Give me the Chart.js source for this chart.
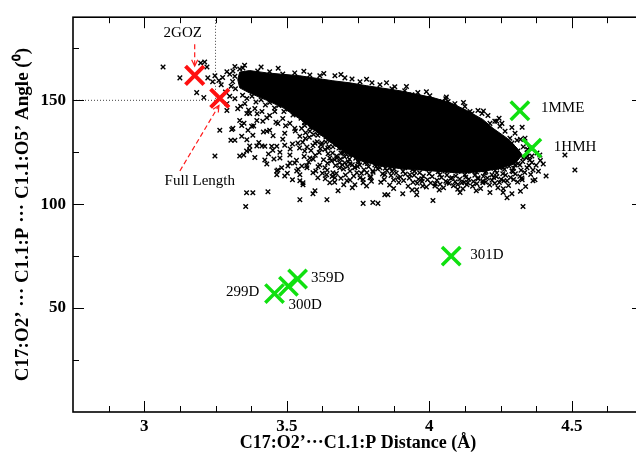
<!DOCTYPE html>
<html>
<head>
<title>C17:O2' - C1.1:P distance vs angle</title>
<script src="https://cdn.jsdelivr.net/npm/chart.js"></script>
<style>
  html, body { margin: 0; padding: 0; overflow: hidden; background: #fff; }
</style>
</head>
<body>
<canvas id="plot" width="660" height="457"></canvas>
<script>
// axis ticks
const xTicks = [3, 3.5, 4, 4.5];
const xMinor = [2.875, 3.125, 3.25, 3.375, 3.625, 3.75, 3.875, 4.125, 4.25, 4.375, 4.625];
const yTicks = [50, 100, 150];
const yMinor = [25, 75, 125, 175];

// highlighted structures
const redDist = [3.177, 3.265];
const redAngle = [162, 151];
const greenDist = [4.318, 4.36, 4.077, 3.538, 3.506, 3.457];
const greenAngle = [145, 127, 75, 64, 60.5, 57];

// text notes (anchor in data units)
const noteText = ['2GOZ', 'Full Length', '1MME', '1HMH', '301D', '359D', '299D', '300D'];
const noteDist = [3.135, 3.195, 4.392, 4.437, 4.144, 3.585, 3.404, 3.506];
const noteAngle = [182.5, 111, 146.3, 127.5, 75.3, 64.5, 57.8, 51.6];

// arrows [fromDist, fromAngle, toDist, toAngle]
const arrowGoz = [3.177, 177, 3.177, 166.5];
const arrowFull = [3.125, 116, 3.262, 147.5];

// dotted guide at 3.25 / 150
const guideDist = [2.75, 3.25, 3.25];
const guideAngle = [150, 150, 190];

// saturated centre of the MD cloud (outline)
const coreDist = [3.335, 3.370, 3.430, 3.546, 3.662, 3.722, 3.781, 3.897, 4.013, 4.073, 4.132, 4.188, 4.224, 4.273, 4.308, 4.326,
  4.301, 4.248, 4.178, 4.108, 4.013, 3.897, 3.827, 3.757, 3.704, 3.651, 3.599, 3.546, 3.486, 3.430, 3.370, 3.335, 3.328, 3.335];
const coreAngle = [163.6, 164.3, 163.2, 161.8, 159.4, 158.4, 157.0, 154.6, 151.3, 148.9, 145.1, 140.8, 136.5, 131.8, 127.0, 123.7,
  119.5, 117.2, 115.6, 115.0, 116.0, 117.2, 118.4, 121.0, 125.0, 130.0, 135.5, 141.0, 146.5, 150.0, 153.5, 156.0, 160.0, 163.6];

// individual MD frames around the centre [dist, angle]
const cloudPts = [
  // left of the cloud, near 2GOZ / full length
  [3.066,166.0],[3.125,160.8],[3.184,153.7],[3.209,151.3],[3.22,166.0],[3.198,168.0],[3.223,160.8],[3.24,158.9],[3.212,168.4],[3.248,161.8],
  [3.27,157.5],[3.285,154],[3.3,152],[3.262,159.5],[3.275,161],[3.3,162.5],[3.31,159.0],[3.32,155.6],[3.305,156.8],[3.318,161.6],
  // upper edge
  [3.29,163.7],[3.311,164.1],[3.335,165.1],[3.346,165.6],[3.381,162.7],[3.398,164.1],[3.44,163.7],[3.486,162.7],[3.528,163.2],[3.581,162.2],
  [3.616,161.8],[3.669,161.8],[3.704,160.8],[3.729,160.3],[3.757,158.9],[3.799,158.4],[3.827,157.5],[3.879,156.5],[3.914,154.6],[3.96,153.7],
  [4.002,152.2],[4.044,149.4],[4.058,150.8],[4.09,148.4],[4.125,147.0],[4.143,144.6],[4.171,145.1],[4.206,142.7],[4.23,139.9],[4.255,138.9],
  [4.266,135.1],[4.301,134.1],[4.29,129.4],[4.336,131.8],[4.353,127.0],[4.378,124.6],
  [3.318,166.3],[3.352,166.9],[3.41,166.0],[3.47,165.4],[3.56,164.0],[3.63,162.9],[3.69,162.4],[3.78,160.1],[3.85,158.4],[3.92,156.6],
  [3.99,154.1],[4.06,151.6],[4.12,148.9],[4.19,144.9],[4.245,141.4],[4.29,136.9],[4.32,131.2],[4.345,126.4],
  [3.827,154.6],[3.869,155.6],[3.939,152.7],[3.977,150.8],[4.013,149.4],[4.066,149.4],[4.132,143.7],[4.15,143.7],[4.185,143.7],[4.213,138.9],
  [4.237,139.9],[4.248,137.5],[4.283,131.7],[4.308,130.8],[4.311,125.6],[4.326,137.0],
  // right tip
  [4.329,122.2],[4.36,123.2],[4.343,117.5],[4.318,118.9],[4.294,115.6],[4.283,120.8],[4.259,117.5],[4.273,111.3],[4.353,121.3],[4.364,116.5],
  [4.326,111.8],[4.371,111.8],[4.388,123.7],[4.343,124.6],[4.301,118.9],
  [4.33,127.6],[4.345,123.1],[4.36,120.1],[4.375,118.8],[4.39,121.0],[4.356,114.3],[4.383,115.9],[4.4,119.4],
  // lower left, sparse
  [3.248,123.2],[3.265,135.6],[3.29,148.4],[3.29,145.1],[3.307,136.0],[3.304,130.8],[3.318,130.8],[3.311,136.5],[3.335,123.2],[3.349,123.7],
  [3.36,143.7],[3.335,140.3],[3.342,137.9],[3.342,132.7],[3.359,125.6],[3.364,135.6],[3.37,128.0],[3.377,137.5],[3.381,133.2],[3.395,140.3],
  [3.395,128.0],[3.37,126.1],[3.413,128.0],[3.416,139.9],[3.423,127.9],[3.423,121.3],[3.43,135.1],[3.44,135.6],[3.447,127.9],[3.451,126.0],
  [3.465,127.9],[3.465,116.0],[3.465,114.2],[3.469,116.5],[3.476,122.2],[3.482,117.5],[3.493,128.4],[3.493,113.6],[3.504,118.4],[3.511,123.7],
  [3.511,119.8],[3.528,119.8],[3.535,116.0],[3.546,132.7],[3.546,114.2],[3.546,111.3],[3.553,118.4],[3.557,110.3],[3.557,109.4],[3.571,117.5],
  [3.581,122.2],[3.592,115.1],[3.599,106.5],[3.609,112.7],[3.616,118.9],[3.64,114.2],[3.651,110.3],[3.662,115.1],[3.669,112.7],[3.676,122.2],
  [3.68,106.5],[3.686,117.5],[3.711,111.3],[3.722,116.0],[3.739,109.4],[3.746,115.1],[3.757,112.7],[3.768,110.3],[3.781,115.1],[3.792,112.7],[3.802,116.0],
  [3.353,148.4],[3.388,146.0],[3.413,144.6],[3.44,142.7],[3.458,144.6],[3.486,141.3],[3.511,138.9],[3.528,136.5],[3.563,137.9],[3.581,135.1],
  [3.609,133.2],[3.623,129.4],[3.644,127.0],[3.599,129.4],[3.683,127.0],[3.697,124.6],[3.722,123.7],[3.75,120.8],[3.774,119.9],[3.809,118.9],
  [3.862,117.5],[3.897,118.4],[3.96,118.4],[4.073,117.5],[4.178,118.0],[4.23,118.9],[3.318,150.8],[3.328,146.0],[3.37,143.7],[3.493,134.1],
  [3.539,129.4],[3.469,138.9],[3.563,125.6],[3.651,122.2],[3.704,119.9],[3.634,117.5],[3.739,117.5],
  [3.345,152.4],[3.36,150.9],[3.378,152.0],[3.392,149.2],[3.41,150.3],[3.425,147.8],[3.44,148.9],[3.457,146.3],[3.472,147.5],[3.49,144.6],
  [3.505,145.8],[3.522,142.9],[3.538,143.7],
  [3.338,147.1],[3.366,145.3],[3.396,143.5],[3.43,141.6],[3.462,139.5],[3.496,137.8],[3.53,135.2],
  [3.35,139.0],[3.384,137.7],[3.418,134.8],[3.452,133.0],[3.486,131.3],[3.52,129.0],[3.545,127.1],
  [3.36,131.0],[3.402,129.7],[3.436,124.2],[3.476,125.0],[3.512,126.6],[3.534,121.1],
  [3.388,122.5],[3.43,119.4],[3.455,121.8],[3.502,114.9],[3.52,111.8],[3.54,116.8],
  // below the diagonal edge
  [3.55,141.4],[3.562,139.2],[3.575,140.6],[3.588,137.3],[3.6,135.8],[3.613,137.9],[3.626,134.2],[3.638,132.5],[3.652,130.7],[3.664,131.9],
  [3.677,128.8],[3.69,127.2],[3.702,125.9],[3.715,126.8],[3.728,124.3],[3.742,122.1],
  [3.552,136.5],[3.566,134.4],[3.579,132.2],[3.594,133.5],[3.607,130.1],[3.621,128.6],[3.634,126.3],[3.648,127.7],[3.661,124.6],[3.675,123.2],
  [3.689,121.7],[3.703,122.8],[3.716,120.4],[3.73,119.0],
  [3.556,129.8],[3.571,127.5],[3.585,125.9],[3.6,123.6],[3.614,124.9],[3.629,121.4],[3.643,119.7],[3.657,120.8],[3.671,118.6],[3.685,119.9],
  [3.699,116.9],[3.713,118.2],
  [3.561,123.0],[3.577,120.3],[3.593,121.7],[3.61,118.0],[3.625,114.9],[3.642,116.4],[3.659,113.3],[3.674,114.8],[3.69,112.5],[3.706,114.1],[3.722,111.6],
  [3.565,131.6],[3.592,128.2],[3.618,126.7],[3.645,124.3],[3.668,121.4],[3.695,119.0],[3.72,121.6],[3.748,118.1],
  [3.583,137.0],[3.609,134.7],[3.637,129.9],[3.662,127.6],[3.69,124.6],[3.71,123.9],
  [3.57,118.6],[3.602,116.0],[3.635,112.2],[3.668,110.6],[3.7,109.4],[3.73,107.9],
  // dense lower band
  [3.73,124.0],[3.745,122.6],[3.76,123.4],[3.775,121.5],[3.79,122.7],[3.81,120.6],[3.825,121.9],[3.84,119.8],[3.858,120.9],[3.872,119.2],
  [3.889,120.4],[3.905,118.6],[3.921,119.7],[3.938,118.1],[3.952,119.3],[3.97,117.6],[3.986,118.8],[4.003,117.2],[4.019,118.3],[4.035,116.9],
  [4.05,118.0],[4.068,116.4],[4.083,117.5],[4.1,115.9],[4.117,116.8],[4.133,115.7],[4.149,116.9],[4.166,115.5],[4.182,116.6],[4.199,115.8],
  [4.215,117.3],[4.231,116.2],[4.248,117.6],[4.264,116.8],[4.28,118.3],[4.296,117.4],[4.312,119.6],[4.328,120.5],[4.34,122.4],
  [3.722,119.3],[3.738,117.8],[3.756,118.9],[3.771,116.6],[3.787,118.0],[3.803,115.4],[3.819,116.9],[3.836,114.6],[3.851,116.2],[3.866,113.8],
  [3.884,115.0],[3.899,113.1],[3.916,114.5],[3.93,112.6],[3.947,113.9],[3.962,112.0],[3.979,113.6],[3.994,111.8],[4.01,113.3],[4.027,111.5],
  [4.043,112.9],[4.058,111.1],[4.075,112.4],[4.091,110.8],[4.107,112.1],[4.122,110.6],[4.139,112.0],[4.155,110.9],[4.171,112.3],[4.188,111.2],
  [4.204,112.6],[4.22,111.5],[4.236,113.2],[4.252,112.0],[4.268,114.0],[4.285,112.8],[4.302,114.6],[4.318,113.4],[4.335,115.3],[4.35,118.6],
  [3.735,113.6],[3.768,111.9],[3.795,113.2],[3.83,110.6],[3.861,109.2],[3.893,110.5],[3.926,108.7],[3.958,110.1],[3.99,108.3],[4.021,109.8],
  [4.05,107.9],[4.085,108.9],[4.118,107.4],[4.152,108.6],[4.18,107.6],[4.212,109.3],[4.246,110.4],[4.278,109.0],[4.31,110.7],[4.338,108.5],
  [3.827,117.5],[3.844,114.2],[3.869,115.9],[3.89,112.7],[3.914,117.5],[3.932,114.2],[3.949,115.9],[3.974,112.2],[3.995,117.0],[4.037,114.2],
  [4.055,116.0],[4.08,112.7],[4.101,116.0],[4.125,114.2],[4.15,116.0],[4.171,112.7],[4.196,115.1],[4.22,114.2],[4.237,115.0],
  [3.752,120.2],[3.783,119.6],[3.814,118.3],[3.846,117.3],[3.877,116.9],[3.908,115.8],[3.941,116.6],[3.966,115.1],[4.0,114.8],[4.031,115.6],
  [4.062,114.0],[4.093,113.6],[4.128,113.0],[4.16,113.9],[4.19,113.4],[4.226,112.9],[4.258,114.7],[4.29,116.0],[4.322,116.4],
  [3.762,114.9],[3.797,111.0],[3.842,111.9],[3.875,111.6],[3.91,111.4],[3.943,110.6],[3.975,110.9],[4.005,110.2],[4.038,109.6],[4.07,110.1],
  [4.1,109.5],[4.135,110.3],[4.167,109.8],[4.198,110.6],[4.23,110.1],[4.262,111.3],[4.296,111.9],[4.325,112.6],
  [3.78,108.8],[3.875,107.6],[3.94,106.8],[4.035,106.9],[4.1,107.2],[4.165,106.5],[4.26,107.4],[4.32,106.2],
  // outliers below
  [3.359,105.5],[3.356,98.9],[3.381,105.5],[3.434,106.0],[3.546,102.2],[3.592,105.0],[3.641,102.2],[3.768,100.4],[3.802,100.8],[3.82,100.4],
  [3.844,104.6],[3.855,104.6],[3.907,105.0],[3.956,104.6],[3.956,107.0],[3.977,108.8],[4.013,101.8],[4.02,108.8],[4.062,110.3],[4.108,105.6],
  [4.114,110.3],[4.132,109.4],[4.188,110.3],[4.213,105.6],[4.241,107.9],[4.259,105.6],[4.273,103.1],[4.29,105.0],[4.329,98.9],[4.364,111.3],
  [4.41,113.6],[4.476,123.7],[4.511,116.5]
];

const toXY = (xs, ys) => xs.map((v, i) => ({ x: v, y: ys[i] }));
const serif = 'Liberation Serif, Times New Roman, serif';

const framePlugin = {
  id: 'frame',
  afterDatasetsDraw(chart) {
    const { ctx, chartArea: a, scales: { x, y } } = chart;
    ctx.save();

    // arrows
    ctx.strokeStyle = '#ff1a1a';
    ctx.lineWidth = 1.2;
    [arrowGoz, arrowFull].forEach(ar => {
      const x0 = x.getPixelForValue(ar[0]), y0 = y.getPixelForValue(ar[1]);
      const x1 = x.getPixelForValue(ar[2]), y1 = y.getPixelForValue(ar[3]);
      ctx.setLineDash([5, 3]);
      ctx.beginPath(); ctx.moveTo(x0, y0); ctx.lineTo(x1, y1); ctx.stroke();
      ctx.setLineDash([]);
      const ang = Math.atan2(y1 - y0, x1 - x0), h = 7;
      ctx.beginPath();
      ctx.moveTo(x1 - h * Math.cos(ang - 0.45), y1 - h * Math.sin(ang - 0.45));
      ctx.lineTo(x1, y1);
      ctx.lineTo(x1 - h * Math.cos(ang + 0.45), y1 - h * Math.sin(ang + 0.45));
      ctx.stroke();
    });

    // labels
    ctx.fillStyle = '#000';
    ctx.font = '15px ' + serif;
    ctx.textBaseline = 'middle';
    noteText.forEach((t, i) => {
      ctx.textAlign = i < 2 ? 'center' : (t === '299D' ? 'right' : 'left');
      ctx.fillText(t, x.getPixelForValue(noteDist[i]), y.getPixelForValue(noteAngle[i]));
    });

    // inward ticks on all four sides
    ctx.strokeStyle = '#000';
    ctx.lineWidth = 1;
    const xt = (v, len) => {
      const p = Math.round(x.getPixelForValue(v)) + 0.5;
      ctx.moveTo(p, a.bottom); ctx.lineTo(p, a.bottom - len);
      ctx.moveTo(p, a.top); ctx.lineTo(p, a.top + len);
    };
    const yt = (v, len) => {
      const p = Math.round(y.getPixelForValue(v)) + 0.5;
      ctx.moveTo(a.left, p); ctx.lineTo(a.left + len, p);
      ctx.moveTo(a.right, p); ctx.lineTo(a.right - len, p);
    };
    ctx.beginPath();
    xTicks.forEach(v => xt(v, 11));
    xMinor.forEach(v => xt(v, 6));
    yTicks.forEach(v => yt(v, 11));
    yMinor.forEach(v => yt(v, 6));
    ctx.stroke();

    ctx.lineWidth = 1.6;
    ctx.strokeRect(a.left, a.top, a.right - a.left, a.bottom - a.top);
    ctx.restore();
  }
};

new Chart(document.getElementById('plot'), {
  type: 'scatter',
  data: {
    datasets: [
      {
        data: toXY(redDist, redAngle), order: 0,
        pointStyle: 'crossRot', radius: 13, borderWidth: 4,
        borderColor: '#ff1010', backgroundColor: '#ff1010'
      },
      {
        data: toXY(greenDist, greenAngle), order: 0,
        pointStyle: 'crossRot', radius: 13, borderWidth: 3.5,
        borderColor: '#10e010', backgroundColor: '#10e010'
      },
      {
        data: cloudPts.map(p => ({ x: p[0], y: p[1] })), order: 1,
        pointStyle: 'crossRot', radius: 3.2, borderWidth: 1.4,
        borderColor: '#000', backgroundColor: '#000'
      },
      {
        data: toXY(coreDist, coreAngle), order: 2,
        showLine: true, fill: 'shape', tension: 0, radius: 0,
        borderWidth: 1, borderColor: '#000', backgroundColor: '#000'
      },
      {
        data: toXY(guideDist, guideAngle), order: 3,
        showLine: true, radius: 0, borderWidth: 1,
        borderColor: '#444', borderDash: [1, 2]
      }
    ]
  },
  options: {
    responsive: false,
    animation: false,
    layout: { padding: { left: 0, top: 13, right: 17, bottom: 0 } },
    plugins: { legend: { display: false }, tooltip: { enabled: false } },
    scales: {
      x: {
        type: 'linear', min: 2.75, max: 4.75,
        grid: { display: false, drawTicks: false },
        border: { display: false },
        afterBuildTicks: s => { s.ticks = xTicks.map(v => ({ value: v })); },
        afterFit: s => { s.height = 45; },
        ticks: { padding: 4, color: '#000', font: { family: serif, size: 17, weight: 'bold' }, callback: v => String(v) },
        title: {
          display: true, text: 'C17:O2\u2019\u00b7\u00b7\u00b7C1.1:P Distance (\u00c5)', color: '#000',
          font: { family: serif, size: 18, weight: 'bold' }, padding: { top: 0, bottom: 3 }
        }
      },
      y: {
        type: 'linear', min: 0, max: 190,
        grid: { display: false, drawTicks: false },
        border: { display: false },
        afterBuildTicks: s => { s.ticks = yTicks.map(v => ({ value: v })); },
        afterFit: s => { s.width = 73; },
        ticks: { padding: 7, color: '#000', font: { family: serif, size: 17, weight: 'bold' }, callback: v => String(v) },
        title: {
          display: true, text: 'C17:O2\u2019 \u00b7\u00b7\u00b7 C1.1:P \u00b7\u00b7\u00b7 C1.1:O5\u2019 Angle (\u2070)', color: '#000',
          font: { family: serif, size: 19, weight: 'bold' }, padding: { top: 12, bottom: 0 }
        }
      }
    }
  },
  plugins: [framePlugin]
});
</script>
</body>
</html>
